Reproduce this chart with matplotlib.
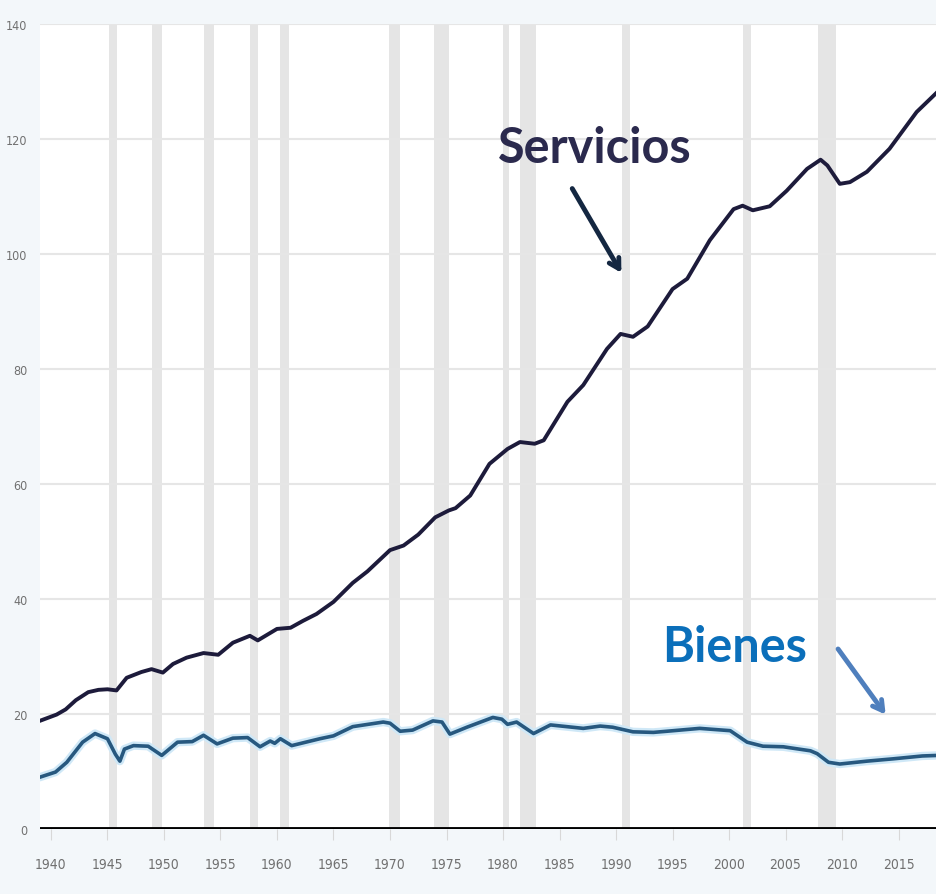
import matplotlib.pyplot as plt

# empleo (millones)
years_serv = [1939.0, 1940.5, 1941.3, 1942.2, 1943.3, 1944.2, 1945.0, 1945.8, 1946.7, 1948.0,
              1948.9, 1949.9, 1950.8, 1952.0, 1953.5, 1954.8, 1956.1, 1957.6, 1958.3, 1960.0,
              1961.2, 1962.3, 1963.5, 1965.0, 1966.7, 1968.0, 1970.0, 1971.2, 1972.5, 1974.0,
              1975.2, 1975.8, 1977.1, 1978.8, 1980.4, 1981.5, 1982.8, 1983.6, 1985.7, 1987.1,
              1989.2, 1990.4, 1991.5, 1992.8, 1995.0, 1996.3, 1998.3, 2000.4, 2001.2, 2002.1,
              2003.6, 2005.1, 2006.9, 2008.1, 2008.7, 2009.8, 2010.7, 2012.2, 2014.2, 2016.6,
              2018.5]
serv_vals = [18.8, 19.9, 20.8, 22.4, 23.8, 24.2, 24.3, 24.1, 26.3, 27.3,
             27.8, 27.2, 28.7, 29.8, 30.6, 30.3, 32.4, 33.6, 32.8, 34.8,
             35.0, 36.2, 37.4, 39.5, 42.8, 44.8, 48.5, 49.3, 51.2, 54.2,
             55.4, 55.8, 58.0, 63.5, 66.1, 67.3, 67.0, 67.6, 74.3, 77.2,
             83.5, 86.1, 85.6, 87.4, 93.9, 95.7, 102.4, 107.8, 108.4, 107.6,
             108.3, 111.0, 114.8, 116.4, 115.4, 112.2, 112.5, 114.3, 118.3, 124.7,
             128.3]

years_bien = [1939.0, 1940.4, 1941.4, 1942.8, 1943.9, 1945.0, 1945.7, 1946.1, 1946.5, 1947.3,
              1948.6, 1949.8, 1951.2, 1952.5, 1953.5, 1954.7, 1956.1, 1957.4, 1958.5, 1959.4,
              1959.8, 1960.3, 1961.3, 1963.8, 1965.0, 1966.7, 1969.4, 1970.0, 1970.9, 1972.0,
              1973.8, 1974.6, 1975.3, 1976.8, 1979.1, 1979.9, 1980.4, 1981.2, 1982.7, 1984.2,
              1987.1, 1988.6, 1989.7, 1991.5, 1993.3, 1994.5, 1997.4, 2000.1, 2000.7, 2001.6,
              2003.0, 2004.8, 2007.2, 2007.8, 2008.8, 2009.8, 2012.2, 2014.5, 2017.1, 2018.5]
bien_vals = [9.0, 9.9, 11.6, 15.1, 16.6, 15.7, 13.0, 11.8, 13.9, 14.5,
             14.4, 12.8, 15.1, 15.2, 16.3, 14.8, 15.8, 15.9, 14.3, 15.3,
             14.9, 15.7, 14.5, 15.7, 16.2, 17.8, 18.6, 18.4, 17.0, 17.2,
             18.8, 18.6, 16.5, 17.7, 19.4, 19.1, 18.2, 18.6, 16.6, 18.1,
             17.5, 17.9, 17.7, 16.9, 16.8, 17.0, 17.5, 17.1, 16.3, 15.1,
             14.4, 14.3, 13.6, 13.1, 11.6, 11.3, 11.8, 12.2, 12.7, 12.8]

# recesiones (inicio, fin)
recessions = [(1945.1, 1945.8), (1948.9, 1949.8), (1953.5, 1954.4), (1957.6, 1958.3),
              (1960.3, 1961.1), (1969.9, 1970.9), (1973.9, 1975.2), (1980.0, 1980.5),
              (1981.5, 1982.9), (1990.5, 1991.2), (2001.2, 2001.9), (2007.9, 2009.5)]

xticks = list(range(1940, 2016, 5))
yticks = list(range(0, 141, 20))

fig = plt.figure(figsize=(9.37, 8.95), dpi=100)
fig.patch.set_facecolor('#f3f7fa')
ax = fig.add_axes([40 / 937, 65 / 895, 897 / 937, 805 / 895])
ax.set_facecolor('white')

for a, b in recessions:
    ax.axvspan(a, b, color='#e5e5e5', lw=0, zorder=0)

for v in yticks[1:]:
    ax.axhline(v, color='#e6e6e6', lw=1.5, zorder=1)
ax.axhline(0, color='black', lw=3.5, zorder=5)

ax.plot(years_bien, bien_vals, color='#cfe8f7', lw=6, zorder=2, solid_capstyle='round')
ax.plot(years_bien, bien_vals, color='#27587f', lw=2.6, zorder=3)
ax.plot(years_serv, serv_vals, color='#1d1b3b', lw=2.8, zorder=3)

ax.set_xlim(1939.03, 2018.4)
ax.set_ylim(0, 140)
ax.set_xticks(xticks)
ax.set_yticks(yticks)
ax.set_xticklabels([str(t) for t in xticks], family='DejaVu Sans', stretch='condensed',
                   fontsize=10, color='#707070')
ax.set_yticklabels([str(t) for t in yticks], family='DejaVu Sans', stretch='condensed',
                   fontsize=9, color='#707070')
ax.tick_params(axis='x', length=8, color='#d8d8d8', pad=12)
ax.tick_params(axis='y', length=0, pad=9)
for s in ax.spines.values():
    s.set_visible(False)

ax.text(1988.1, 118.6, 'Servicios', fontsize=35, fontweight='bold', family='Lato',
        color='#2b2a4e', ha='center', va='center', zorder=6)
ax.annotate('', xy=(1990.6, 96.3), xytext=(1986.0, 111.8),
            arrowprops=dict(arrowstyle='->,head_length=0.7,head_width=0.4', color='#142741', lw=3.5),
            zorder=6)
ax.text(2000.5, 31.8, 'Bienes', fontsize=35, fontweight='bold', family='Lato',
        color='#0b6fba', ha='center', va='center', zorder=6)
ax.annotate('', xy=(2014.0, 19.5), xytext=(2009.5, 31.7),
            arrowprops=dict(arrowstyle='->,head_length=0.7,head_width=0.4', color='#4f7fbd', lw=3.5),
            zorder=6)

plt.savefig('out.png', dpi=100, facecolor=fig.get_facecolor())
